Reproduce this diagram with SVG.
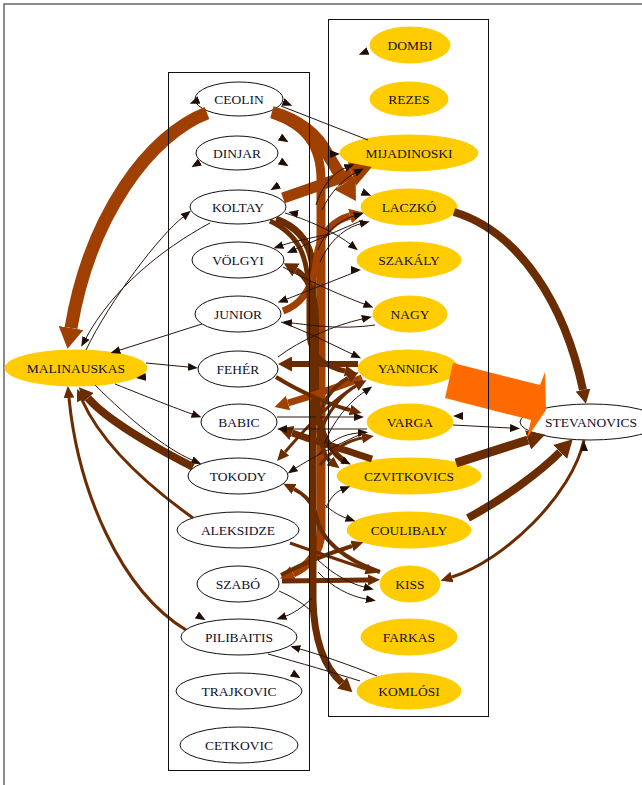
<svg xmlns="http://www.w3.org/2000/svg" width="642" height="785" viewBox="0 0 642 785">
<style>
.t{font-family:"Liberation Serif","Times New Roman",serif;font-size:13.5px;fill:#10102a;text-anchor:middle}
.w{fill:#fff;stroke:#111;stroke-width:1}
.g{fill:#ffcc00;stroke:#ffcc00;stroke-width:1}
.e{fill:none}
.thin{stroke:#2a140a;stroke-width:1}
.br{stroke:#6b2c00}
.ru{stroke:#a04000}
.stray{stroke:none;fill:none}
.cl{fill:none;stroke:#111;stroke-width:1}
</style>
<defs>
<marker id="m1" viewBox="0 0 10 8" refX="0" refY="4" markerWidth="10" markerHeight="8" markerUnits="userSpaceOnUse" orient="auto"><path d="M0,0L10,4L0,8z" fill="#1e0e06"/></marker>
<marker id="m2" viewBox="0 0 12 11" refX="0" refY="5.5" markerWidth="12" markerHeight="11" markerUnits="userSpaceOnUse" orient="auto"><path d="M0,0L12,5.5L0,11z" fill="#6b2c00"/></marker>
<marker id="m3r" viewBox="0 0 14 15" refX="0" refY="7.5" markerWidth="14" markerHeight="15" markerUnits="userSpaceOnUse" orient="auto"><path d="M0,0L14,7.5L0,15z" fill="#a04000"/></marker>
<marker id="m3b" viewBox="0 0 14 15" refX="0" refY="7.5" markerWidth="14" markerHeight="15" markerUnits="userSpaceOnUse" orient="auto"><path d="M0,0L14,7.5L0,15z" fill="#6b2c00"/></marker>
<marker id="m4r" viewBox="0 0 21 25" refX="0" refY="12.5" markerWidth="21" markerHeight="25" markerUnits="userSpaceOnUse" orient="auto"><path d="M0,0L21,12.5L0,25z" fill="#a04000"/></marker>
<marker id="m4b" viewBox="0 0 18 20" refX="0" refY="10" markerWidth="18" markerHeight="20" markerUnits="userSpaceOnUse" orient="auto"><path d="M0,0L18,10L0,20z" fill="#6b2c00"/></marker>
</defs>
<rect x="0" y="0" width="642" height="785" fill="#fff"/>
<rect x="4" y="4" width="700" height="850" fill="none" stroke="#666" stroke-width="1.5"/>

<g id="nodes">
<g id="CEOLIN"><ellipse class="w" cx="239" cy="99" rx="44" ry="17"/><text class="t" x="239" y="104">CEOLIN</text></g>
<g id="DINJAR"><ellipse class="w" cx="237" cy="153" rx="41" ry="17"/><text class="t" x="237" y="158">DINJAR</text></g>
<g id="KOLTAY"><ellipse class="w" cx="238" cy="207" rx="48" ry="17"/><text class="t" x="238" y="212">KOLTAY</text></g>
<g id="VOLGYI"><ellipse class="w" cx="238" cy="260" rx="46" ry="18"/><text class="t" x="238" y="265">VÖLGYI</text></g>
<g id="JUNIOR"><ellipse class="w" cx="238" cy="314" rx="43" ry="18"/><text class="t" x="238" y="319">JUNIOR</text></g>
<g id="FEHER"><ellipse class="w" cx="238" cy="369" rx="40" ry="18"/><text class="t" x="238" y="374">FEHÉR</text></g>
<g id="BABIC"><ellipse class="w" cx="239" cy="422" rx="38" ry="18"/><text class="t" x="239" y="427">BABIC</text></g>
<g id="TOKODY"><ellipse class="w" cx="238" cy="476" rx="50" ry="18"/><text class="t" x="238" y="481">TOKODY</text></g>
<g id="ALEKSIDZE"><ellipse class="w" cx="238" cy="530" rx="61" ry="18"/><text class="t" x="238" y="535">ALEKSIDZE</text></g>
<g id="SZABO"><ellipse class="w" cx="238" cy="584" rx="41" ry="18"/><text class="t" x="238" y="589">SZABÓ</text></g>
<g id="PILIBAITIS"><ellipse class="w" cx="239" cy="637" rx="58" ry="18"/><text class="t" x="239" y="642">PILIBAITIS</text></g>
<g id="TRAJKOVIC"><ellipse class="w" cx="239" cy="691" rx="63" ry="18"/><text class="t" x="239" y="696">TRAJKOVIC</text></g>
<g id="CETKOVIC"><ellipse class="w" cx="239" cy="745" rx="59" ry="18"/><text class="t" x="239" y="750">CETKOVIC</text></g>

<g id="DOMBI"><ellipse class="g" cx="410" cy="45" rx="40" ry="18"/><text class="t" x="410" y="50">DOMBI</text></g>
<g id="REZES"><ellipse class="g" cx="409" cy="99" rx="39" ry="17"/><text class="t" x="409" y="104">REZES</text></g>
<g id="MIJADINOSKI"><ellipse class="g" cx="409" cy="153" rx="69" ry="18"/><text class="t" x="409" y="158">MIJADINOSKI</text></g>
<g id="LACZKO"><ellipse class="g" cx="409" cy="207" rx="48" ry="18"/><text class="t" x="409" y="212">LACZKÓ</text></g>
<g id="SZAKALY"><ellipse class="g" cx="409" cy="260" rx="52" ry="18"/><text class="t" x="409" y="265">SZAKÁLY</text></g>
<g id="NAGY"><ellipse class="g" cx="410" cy="314" rx="37" ry="18"/><text class="t" x="410" y="319">NAGY</text></g>
<g id="YANNICK"><ellipse class="g" cx="408" cy="368" rx="50" ry="18"/><text class="t" x="408" y="373">YANNICK</text></g>
<g id="VARGA"><ellipse class="g" cx="410" cy="422" rx="43" ry="18"/><text class="t" x="410" y="427">VARGA</text></g>
<g id="CZVITKOVICS"><ellipse class="g" cx="409" cy="476" rx="72" ry="18"/><text class="t" x="409" y="481">CZVITKOVICS</text></g>
<g id="COULIBALY"><ellipse class="g" cx="409" cy="530" rx="62" ry="18"/><text class="t" x="409" y="535">COULIBALY</text></g>
<g id="KISS"><ellipse class="g" cx="410" cy="584" rx="30" ry="18"/><text class="t" x="410" y="589">KISS</text></g>
<g id="FARKAS"><ellipse class="g" cx="409" cy="637" rx="48" ry="18"/><text class="t" x="409" y="642">FARKAS</text></g>
<g id="KOMLOSI"><ellipse class="g" cx="409" cy="691" rx="52" ry="18"/><text class="t" x="409" y="696">KOMLÓSI</text></g>

<g id="MALINAUSKAS"><ellipse class="g" cx="76" cy="368" rx="71" ry="18"/><text class="t" x="76" y="373">MALINAUSKAS</text></g>
<g id="STEVANOVICS"><ellipse class="w" cx="590" cy="422" rx="70" ry="18"/><text class="t" x="591" y="427">STEVANOVICS</text></g>
</g>

<g id="edges" class="e">
<!-- trunk -->
<path class="ru" stroke-width="9" d="M272,114 C305,125 321,145 321,180 L321,530 C321,555 305,568 293,573" marker-end="url(#m3r)"/>
<path class="br" stroke-width="7" d="M276,219 C300,228 312,245 313,270 L313,600 C314,640 325,668 342,683" marker-end="url(#m3b)"/>
<path class="ru" stroke-width="7" d="M283,311 C300,305 310,292 315,270 L318,250 C322,232 335,220 350,216" marker-end="url(#m3r)"/>
<path class="br" stroke-width="6" d="M345,462 C322,445 316,420 316,380 L316,320 C316,290 305,275 296,270" marker-end="url(#m3b)"/>
<path class="br" stroke-width="5" d="M270,221 C300,235 309,258 309,300 L309,335 C310,358 330,368 345,371" marker-end="url(#m2)"/>
<!-- thick top -->
<path class="ru" stroke-width="13" d="M207,113 C150,135 90,215 71,328" marker-end="url(#m4r)"/>
<path class="ru" stroke-width="12" d="M272,112 C300,120 318,135 328,155 L345,183" marker-end="url(#m4r)"/>
<path class="ru" stroke-width="11" d="M283,198 L352,174" marker-end="url(#m4r)"/>
<!-- middle branches -->
<path class="br" stroke-width="6" d="M358,364 L292,364" marker-end="url(#m3b)"/>
<path class="ru" stroke-width="7" d="M362,378 C335,388 305,398 288,403" marker-end="url(#m3r)"/>
<path class="br" stroke-width="4" d="M276,377 C300,392 330,405 350,410" marker-end="url(#m2)"/>
<path class="br" stroke-width="7" d="M372,459 C345,450 312,440 292,433" marker-end="url(#m3b)"/>
<path class="br" stroke-width="3" d="M362,382 C330,400 300,435 285,452" marker-end="url(#m2)"/>
<path class="thin" d="M366,432 C335,445 305,462 296,468" marker-end="url(#m1)"/>
<path class="br" stroke-width="4" d="M380,572 C345,560 320,540 316,515 C312,500 300,492 294,489" marker-end="url(#m2)"/>
<path class="thin" d="M277,417 L354,417" marker-end="url(#m1)"/>
<path class="thin" d="M367,429 L287,429" marker-end="url(#m1)"/>
<path class="thin" d="M285,213 C315,222 340,236 350,244" marker-end="url(#m1)"/>
<path class="thin" d="M363,220 C335,232 305,245 296,249" marker-end="url(#m1)"/>
<path class="thin" d="M330,234 C310,238 292,242 283,245" marker-end="url(#m1)"/>
<path class="thin" d="M358,271 C330,282 300,294 287,299" marker-end="url(#m1)"/>
<path class="thin" d="M283,267 C310,282 345,297 364,304" marker-end="url(#m1)"/>
<path class="thin" d="M281,322 C310,333 335,346 352,354" marker-end="url(#m1)"/>
<path class="thin" d="M375,325 C340,330 310,325 292,323" marker-end="url(#m1)"/>
<path class="thin" d="M278,357 C300,340 335,325 362,319" marker-end="url(#m1)"/>
<path class="thin" d="M316,205 C322,185 335,172 345,168" marker-end="url(#m1)"/>
<path class="thin" d="M322,210 C330,192 345,178 355,173" marker-end="url(#m1)"/>
<path class="thin" d="M318,250 C324,232 340,220 354,216" marker-end="url(#m1)"/>
<path class="thin" d="M320,262 C330,240 345,228 360,224" marker-end="url(#m1)"/>
<path class="br" stroke-width="4" d="M316,425 C322,400 335,385 348,378" marker-end="url(#m2)"/>
<path class="br" stroke-width="3" d="M318,440 C326,410 345,392 356,386" marker-end="url(#m2)"/>
<path class="thin" d="M322,450 C332,420 352,400 364,392" marker-end="url(#m1)"/>
<path class="thin" d="M318,455 C330,440 345,434 358,433" marker-end="url(#m1)"/>
<path class="br" stroke-width="3" d="M320,465 C333,448 350,440 362,438" marker-end="url(#m2)"/>
<path class="br" stroke-width="4" d="M318,430 C322,448 326,458 330,461" marker-end="url(#m2)"/>
<path class="thin" d="M325,440 C332,452 338,458 342,460" marker-end="url(#m1)"/>
<path class="thin" d="M326,508 C330,498 336,492 341,490" marker-end="url(#m1)"/>
<path class="thin" d="M325,505 C333,512 340,516 346,518" marker-end="url(#m1)"/>
<path class="br" stroke-width="4" d="M281,575 C300,565 330,553 352,546" marker-end="url(#m2)"/>
<path class="br" stroke-width="5" d="M282,581 L368,580" marker-end="url(#m2)"/>
<path class="br" stroke-width="3" d="M290,543 C318,553 345,562 366,569" marker-end="url(#m2)"/>
<path class="thin" d="M318,560 C335,576 352,584 364,587" marker-end="url(#m1)"/>
<path class="thin" d="M318,572 C333,588 350,596 366,599" marker-end="url(#m1)"/>
<path class="thin" d="M312,598 C302,608 292,614 286,616" marker-end="url(#m1)"/>
<path class="thin" d="M279,591 C295,598 305,605 312,612"/>
<path class="thin" d="M377,676 C350,665 318,654 300,649" marker-end="url(#m1)"/>
<path class="thin" d="M268,654 C300,663 335,673 360,681"/>
<path class="thin" d="M281,106 L368,140"/>
<!-- MALINAUSKAS -->
<path class="thin" d="M86,350 C110,300 160,235 183,217" marker-end="url(#m1)"/>
<path class="thin" d="M210,223 C160,250 112,290 86,338" marker-end="url(#m1)"/>
<path class="thin" d="M202,324 L120,350" marker-end="url(#m1)"/>
<path class="thin" d="M146,363 L188,367" marker-end="url(#m1)"/>
<path class="thin" d="M115,384 C150,398 175,408 192,414" marker-end="url(#m1)"/>
<path class="thin" d="M95,385 C130,420 165,448 192,460" marker-end="url(#m1)"/>
<path class="br" stroke-width="8" d="M193,467 C150,445 105,418 88,398" marker-end="url(#m3b)"/>
<path class="br" stroke-width="3" d="M193,518 C140,480 100,440 82,400" marker-end="url(#m2)"/>
<path class="br" stroke-width="3" d="M186,630 C120,590 78,490 69,398" marker-end="url(#m2)"/>
<!-- STEVANOVICS -->
<path class="br" stroke-width="8" d="M454,212 C520,232 565,305 583,390" marker-end="url(#m3b)"/>
<path class="br" stroke-width="9" d="M456,463 L528,440" marker-end="url(#m4b)"/>
<path class="br" stroke-width="8" d="M468,518 C505,498 540,472 560,452" marker-end="url(#m4b)"/>
<path class="br" stroke-width="3" d="M584,440 C572,495 505,560 452,577" marker-end="url(#m2)"/>
<path class="thin" d="M453,425 L510,428" marker-end="url(#m1)"/>
<polygon fill="#ff6a00" points="453,363 540,385 545,372 546,410 527,438 531,420 445,398"/>
<!-- stray arrowheads -->
<path class="stray" d="M369,50.6 L368,51" marker-end="url(#m1)"/>
<path class="stray" d="M200,99.6 L199,100" marker-end="url(#m1)"/>
<path class="stray" d="M282,101.6 L283,102" marker-end="url(#m1)"/>
<path class="stray" d="M279,136.4 L280,137" marker-end="url(#m1)"/>
<path class="stray" d="M279,160.4 L280,161" marker-end="url(#m1)"/>
<path class="stray" d="M201,161.4 L200,162" marker-end="url(#m1)"/>
<path class="stray" d="M280,184.4 L279,185" marker-end="url(#m1)"/>
<path class="stray" d="M329,154 L330,154" marker-end="url(#m1)"/>
<path class="stray" d="M361,191.6 L362,192" marker-end="url(#m1)"/>
<path class="stray" d="M299,214.2 L298,214" marker-end="url(#m1)"/>
<path class="stray" d="M350,270 L351,270" marker-end="url(#m1)"/>
<path class="stray" d="M147,376.9 L146,377" marker-end="url(#m1)"/>
<path class="stray" d="M464,416 L463,416" marker-end="url(#m1)"/>
<path class="stray" d="M584,452 L584,451" marker-end="url(#m1)"/>
<path class="stray" d="M196,614.4 L197,615" marker-end="url(#m1)"/>
<path class="stray" d="M291,672.4 L292,673" marker-end="url(#m1)"/>
</g>

<g id="clusters">
<rect class="cl" x="168.5" y="72.5" width="141" height="698"/>
<rect class="cl" x="328.5" y="19.5" width="160" height="697"/>
</g>
</svg>
